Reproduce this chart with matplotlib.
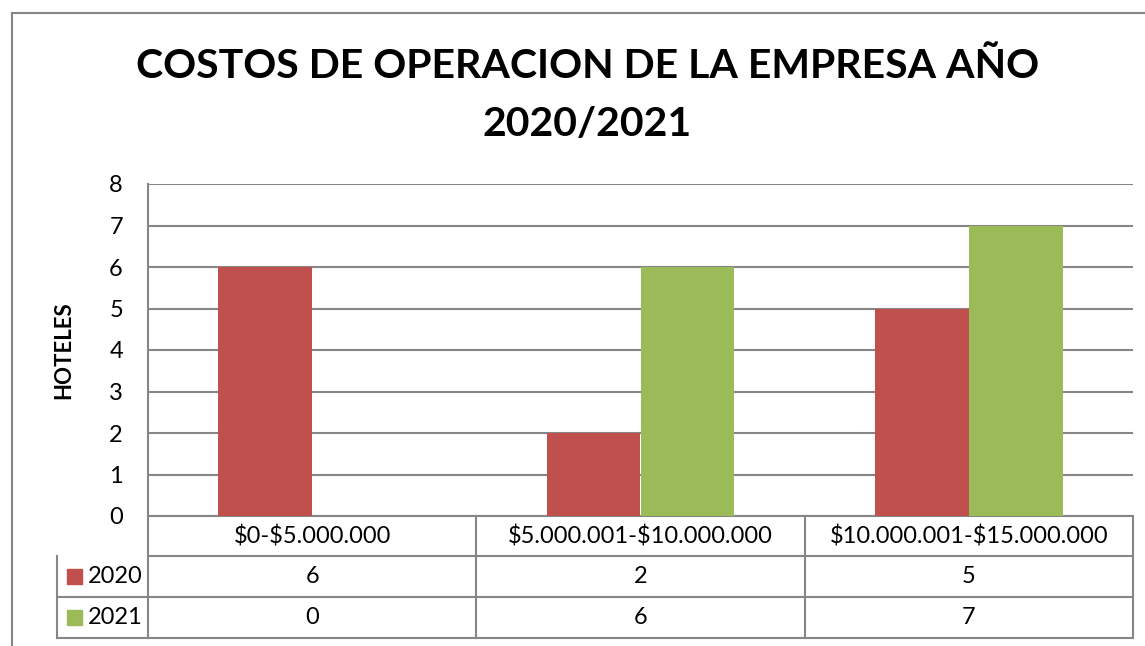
import matplotlib.pyplot as plt
import numpy as np

# datos del grafico
categorias = ['$0-$5.000.000', '$5.000.001-$10.000.000', '$10.000.001-$15.000.000']
series = ['2020', '2021']
valores_2020 = [6, 2, 5]
valores_2021 = [0, 6, 7]
colores = ['#C0504D', '#9BBB59']

plt.rcParams['font.family'] = ['Lato', 'DejaVu Sans']
gris = '#868686'

W, H = 1145, 646
fig = plt.figure(figsize=(W / 100, H / 100), dpi=100)

# marco del area del grafico
fig.add_artist(plt.Line2D([12 / W, 12 / W], [0, 1 - 13 / H], color=gris, lw=1.5))
fig.add_artist(plt.Line2D([12 / W, 1], [1 - 13 / H, 1 - 13 / H], color=gris, lw=1.5))

fig.text(588 / W, 1 - 66 / H, 'COSTOS DE OPERACION DE LA EMPRESA AÑO',
         ha='center', va='center', fontsize=29.5, fontweight='bold')
fig.text(587 / W, 1 - 124 / H, '2020/2021',
         ha='center', va='center', fontsize=29.5, fontweight='bold')

ax = fig.add_axes([148 / W, 1 - 516 / H, 985 / W, 332 / H])
x = np.arange(len(categorias))
ancho = 1 / 3.5
ax.bar(x - ancho / 2, valores_2020, ancho, color=colores[0], zorder=3)
ax.bar(x + ancho / 2, valores_2021, ancho, color=colores[1], zorder=3)

ax.set_xlim(-0.5, len(categorias) - 0.5)
ax.set_ylim(0, 8)
ax.set_yticks(range(0, 9))
ax.tick_params(axis='y', length=0, labelsize=17, pad=18)
ax.set_xticks([])
ax.grid(axis='y', color=gris, lw=1.5, zorder=0)
for s in ['top', 'right', 'bottom']:
    ax.spines[s].set_visible(False)
ax.spines['left'].set_color(gris)
ax.spines['left'].set_linewidth(1.5)
ax.set_ylabel('HOTELES', fontsize=16, fontweight='bold')
ax.yaxis.set_label_coords(-74 / 985, 0.5)

# tabla de datos
trans = ax.transAxes
px_w, px_h = 985, 332
filas_y = [0, -40 / px_h, -81 / px_h, -122 / px_h]
x_izq = -91 / px_w
col_x = [0, 1 / 3, 2 / 3, 1]
kw = dict(color=gris, lw=1.5, transform=trans, clip_on=False)
# lineas horizontales
ax.plot([0, 1], [filas_y[0]] * 2, **kw)
ax.plot([0, 1], [filas_y[1]] * 2, **kw)
for yy in filas_y[2:]:
    ax.plot([x_izq, 1], [yy, yy], **kw)
# lineas verticales
for cx in col_x:
    ax.plot([cx, cx], [filas_y[0], filas_y[3]], **kw)
ax.plot([x_izq, x_izq], [filas_y[1], filas_y[3]], **kw)

for i, cat in enumerate(categorias):
    cx = (col_x[i] + col_x[i + 1]) / 2
    ax.text(cx, (filas_y[0] + filas_y[1]) / 2, cat, transform=trans,
            ha='center', va='center', fontsize=17, parse_math=False)
    for j, vals in enumerate([valores_2020, valores_2021]):
        ax.text(cx, (filas_y[j + 1] + filas_y[j + 2]) / 2, str(vals[i]),
                transform=trans, ha='center', va='center', fontsize=17)

for j, nombre in enumerate(series):
    yc = (filas_y[j + 1] + filas_y[j + 2]) / 2
    ax.add_patch(plt.Rectangle((x_izq + 10 / px_w, yc - 7.5 / px_h), 15 / px_w, 15 / px_h,
                               transform=trans, color=colores[j], clip_on=False))
    ax.text(x_izq + 31 / px_w, yc, nombre, transform=trans, ha='left', va='center',
            fontsize=17)

fig.savefig('out.png', dpi=100)
